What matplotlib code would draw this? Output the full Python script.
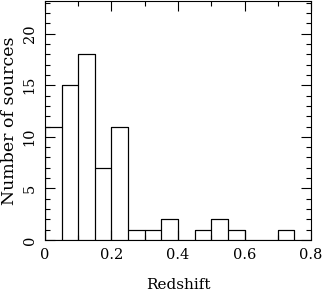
import numpy as np
import matplotlib.pyplot as plt
from matplotlib.ticker import MultipleLocator

# bin edges and counts
bin_edges = np.arange(0, 0.8001, 0.05)
counts = [11, 15, 18, 7, 11, 1, 1, 2, 0, 1, 2, 1, 0, 0, 1, 0]

plt.rcParams['font.family'] = ['DejaVu Serif']

fig = plt.figure(figsize=(3.23, 2.91), dpi=100)
ax = fig.add_axes([0.139, 0.175, 0.824, 0.823])

ax.stairs(counts, bin_edges, color='black', linewidth=0.8)
# draw each non-empty bin as a box
for i, c in enumerate(counts):
    if c > 0:
        ax.bar(bin_edges[i], c, width=0.05, align='edge',
               fill=False, edgecolor='black', linewidth=0.8)

ax.set_xlim(0, 0.8)
ax.set_ylim(0, 23.2)
ax.xaxis.set_major_locator(MultipleLocator(0.2))
ax.xaxis.set_minor_locator(MultipleLocator(0.1))
ax.yaxis.set_major_locator(MultipleLocator(5))
ax.yaxis.set_minor_locator(MultipleLocator(1))
ax.xaxis.set_major_formatter(plt.FuncFormatter(lambda v, p: '0' if v == 0 else f'{v:.1f}'))
ax.tick_params(which='both', direction='in', top=True, right=True, labelsize=10.5, width=0.8)
ax.tick_params(which='major', length=7, pad=6)
ax.tick_params(which='minor', length=3.5)
plt.setp(ax.get_yticklabels(), rotation=90, va='center')
for s in ax.spines.values():
    s.set_linewidth(0.8)

ax.set_xlabel("Redshift", fontsize=11, labelpad=11)
ax.set_ylabel("Number of sources", fontsize=12.5, labelpad=3)

fig.savefig("out.png", dpi=100)
